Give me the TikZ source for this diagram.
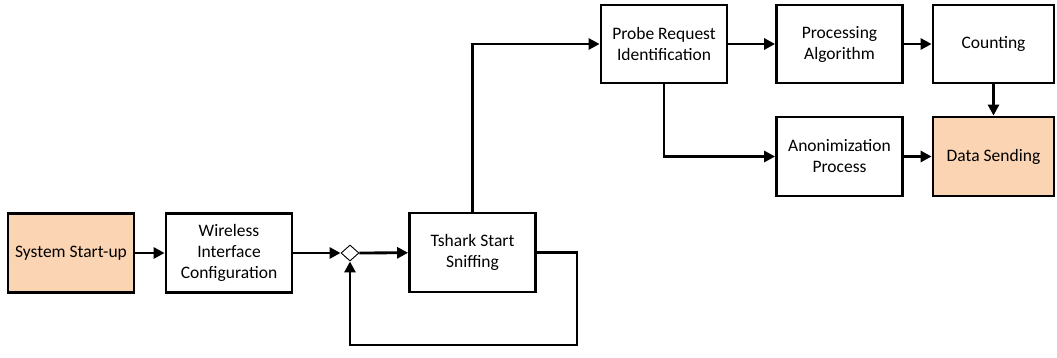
\documentclass[tikz,border=0pt]{standalone}
\usepackage{fontspec}
\setmainfont{Carlito}
\usetikzlibrary{arrows.meta,shapes.geometric}
\definecolor{peach}{HTML}{FBD4B4}
\begin{document}
\begin{tikzpicture}[x=1pt,y=-1pt,
  stepbox/.style={draw,line width=2.8pt,align=center,inner sep=0pt,
    font=\fontsize{17.5}{21}\selectfont,minimum width=126pt,minimum height=79pt},
  endbox/.style={stepbox,fill=peach},
  flow/.style={line width=2.8pt,-{Triangle[length=11pt,width=11pt]}},
  merge/.style={draw,diamond,fill=white,line width=0.9pt,inner sep=0pt,
    minimum width=18pt,minimum height=16pt}]
\useasboundingbox (0,0) rectangle (1057,358);

% nodes
\node[endbox]  (start) at (71,253)    {System Start-up};
\node[stepbox] (wic)   at (229,253)   {Wireless\\Interface\\Configuration};
\node[merge]   (dia)   at (350,253)   {};
\node[stepbox] (tsh)   at (472.5,252.5) {Tshark Start\\Sniffing};
\node[stepbox,minimum height=78pt] (probe) at (664,44) {Probe Request\\Identification};
\node[stepbox,minimum height=78pt] (proc)  at (839.5,44) {Processing\\Algorithm};
\node[stepbox,minimum height=78pt,minimum width=121pt] (count) at (993.5,44) {Counting};
\node[stepbox] (anon)  at (839.5,156.5) {Anonimization\\Process};
\node[endbox,minimum width=121pt]  (data)  at (993.5,156.5) {Data Sending};
\coordinate (loopR) at (577,345);

% connectors
\draw[flow] (start) -- (wic);
\draw[flow] (wic) -- (dia);
\draw[flow] (dia) -- (tsh);
\draw[flow] (tsh.east) -| (loopR) -| (dia.south);
\draw[flow] (tsh.north) |- (probe.west);
\draw[flow] (probe) -- (proc);
\draw[flow] (proc) -- (count);
\draw[flow] (probe.south) |- (anon.west);
\draw[flow] (anon) -- (data);
\draw[flow] (count) -- (data);
\end{tikzpicture}
\end{document}
